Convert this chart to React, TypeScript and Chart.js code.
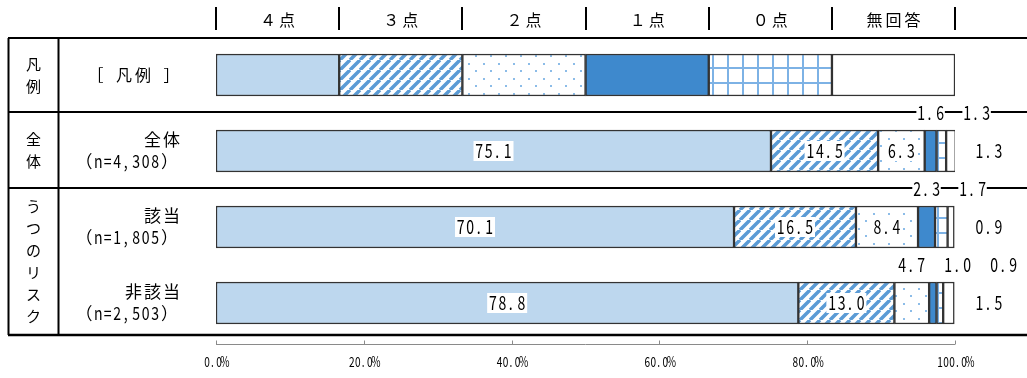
import React, { useEffect, useRef } from 'react';
import { Chart, registerables } from 'chart.js';

Chart.register(...registerables);

// ---------- data ----------
const categories = ['［ 凡例 ］', '全体', '該当', '非該当'];
const sampleSizes = ['', '（n=4,308）', '（n=1,805）', '（n=2,503）'];
const seriesNames = ['４点', '３点', '２点', '１点', '０点', '無回答'];
const legendWidths = [16.67, 16.67, 16.67, 16.67, 16.67, 16.65];
const score4 = [75.1, 70.1, 78.8];
const score3 = [14.5, 16.5, 13.0];
const score2 = [6.3, 8.4, 4.7];
const score1 = [1.6, 2.3, 1.0];
const score0 = [1.3, 1.7, 0.9];
const noAnswer = [1.3, 0.9, 1.5];
const xTicks = [0, 20, 40, 60, 80, 100];
const groupLabels = ['凡例', '全体', 'うつのリスク'];
const groupFirstRow = [0, 1, 2];
const groupLastRow = [0, 1, 3];

const seriesValues = [score4, score3, score2, score1, score0, noAnswer];

// ---------- helpers ----------
const CJK = "'Noto Sans CJK JP', 'Noto Sans', sans-serif";

function isWide(ch: string) {
  return ch.charCodeAt(0) >= 0x2e80;
}

function monoWidth(text: string, cell: number) {
  return Array.from(text).reduce((a, c) => a + (isWide(c) ? cell * 2 : cell), 0);
}

// Draws text in fixed cells (half-width / full-width), mimicking a Japanese monospace font.
function drawMono(
  ctx: CanvasRenderingContext2D,
  text: string,
  x: number,
  y: number,
  align: 'left' | 'center' | 'right',
  size: number,
  cell: number,
  wideSize: number,
  sx: number
) {
  const chars = Array.from(text);
  const total = monoWidth(text, cell);
  let pos = align === 'left' ? x : align === 'center' ? x - total / 2 : x - total;
  ctx.save();
  ctx.textAlign = 'center';
  ctx.textBaseline = 'middle';
  ctx.fillStyle = '#000';
  for (const c of chars) {
    const wide = isWide(c);
    const w = wide ? cell * 2 : cell;
    if (c !== ' ') {
      if (wide) {
        ctx.font = `${wideSize}px ${CJK}`;
        ctx.fillText(c, pos + w / 2, y);
      } else {
        ctx.font = `${size}px ${CJK}`;
        const px = c === '.' || c === ',' ? pos + w * 0.38 : pos + w / 2;
        ctx.save();
        ctx.translate(px, y);
        ctx.scale(sx, 1);
        ctx.fillText(c, 0, 0);
        ctx.restore();
      }
    }
    pos += w;
  }
  ctx.restore();
  return total;
}

function makeTile(size: number, draw: (g: CanvasRenderingContext2D, s: number) => void) {
  const c = document.createElement('canvas');
  c.width = size;
  c.height = size;
  const g = c.getContext('2d')!;
  g.fillStyle = '#ffffff';
  g.fillRect(0, 0, size, size);
  draw(g, size);
  return c;
}

// ---------- plugin ----------
const tablePlugin = {
  id: 'tablePlugin',
  beforeDatasetsDraw(chart: any) {
    const ctx: CanvasRenderingContext2D = chart.ctx;
    const ca = chart.chartArea;
    const ys = chart.scales.y;
    const xs = chart.scales.x;
    const W = chart.width;
    const step = ys.getPixelForValue(1) - ys.getPixelForValue(0);
    const topLine = ca.top + 1;
    const bottomLine = ca.bottom - 6;
    ctx.save();
    ctx.strokeStyle = '#000';
    // horizontal lines
    ctx.lineWidth = 2;
    ctx.beginPath();
    ctx.moveTo(8, topLine);
    ctx.lineTo(W, topLine);
    for (let g = 0; g < groupLastRow.length - 1; g++) {
      const yb = ys.getPixelForValue(groupLastRow[g]) + step / 2 - 1;
      ctx.moveTo(8, yb);
      ctx.lineTo(W, yb);
    }
    ctx.stroke();
    ctx.lineWidth = 2.5;
    ctx.beginPath();
    ctx.moveTo(8, bottomLine);
    ctx.lineTo(W, bottomLine);
    ctx.stroke();
    // vertical lines
    ctx.lineWidth = 2;
    ctx.beginPath();
    ctx.moveTo(8.5, topLine);
    ctx.lineTo(8.5, bottomLine);
    ctx.moveTo(58.5, topLine);
    ctx.lineTo(58.5, bottomLine);
    ctx.stroke();

    // header ticks and labels
    let cum = 0;
    const bounds = [xs.getPixelForValue(0)];
    legendWidths.forEach((w) => {
      cum += w;
      bounds.push(xs.getPixelForValue(Math.min(cum, 100)));
    });
    ctx.lineWidth = 2;
    ctx.beginPath();
    bounds.forEach((bx) => {
      ctx.moveTo(Math.round(bx), 7);
      ctx.lineTo(Math.round(bx), 30);
    });
    ctx.stroke();
    seriesNames.forEach((n, i) => {
      drawMono(ctx, n, (bounds[i] + bounds[i + 1]) / 2, 20, 'center', 16, 9.5, 16, 0.8);
    });

    // group labels (vertical)
    for (let g = 0; g < groupLabels.length; g++) {
      const t = g === 0 ? topLine : ys.getPixelForValue(groupFirstRow[g]) - step / 2 - 1;
      const b =
        g === groupLabels.length - 1 ? bottomLine : ys.getPixelForValue(groupLastRow[g]) + step / 2 - 1;
      const chars = Array.from(groupLabels[g]);
      const sp = 22;
      const mid = (t + b) / 2;
      ctx.fillStyle = '#000';
      ctx.font = `15px ${CJK}`;
      ctx.textAlign = 'center';
      ctx.textBaseline = 'middle';
      chars.forEach((c, i) => {
        ctx.fillText(c, 33.5, mid + (i - (chars.length - 1) / 2) * sp);
      });
    }

    // row labels
    categories.forEach((name, i) => {
      const cy = ys.getPixelForValue(i);
      if (sampleSizes[i]) {
        drawMono(ctx, name, 181, cy - 11.5, 'right', 17, 9.5, 17, 0.78);
        drawMono(ctx, sampleSizes[i], 179, cy + 10.5, 'right', 18, 9.5, 17, 0.78);
      } else {
        drawMono(ctx, name, 181, cy, 'right', 17, 9.5, 16, 0.78);
      }
    });

    // x axis line with ticks and tick labels
    ctx.strokeStyle = '#8a8a8a';
    ctx.lineWidth = 1;
    ctx.beginPath();
    const ay = ca.bottom + 3.5;
    ctx.moveTo(xs.getPixelForValue(0), ay);
    ctx.lineTo(xs.getPixelForValue(100), ay);
    xs.ticks.forEach((t: any) => {
      const px = Math.round(xs.getPixelForValue(t.value)) + 0.5;
      ctx.moveTo(px, ay);
      ctx.lineTo(px, ay - 4);
    });
    ctx.stroke();
    xs.ticks.forEach((t: any) => {
      const label = Number(t.value).toFixed(1) + '%';
      drawMono(ctx, label, xs.getPixelForValue(t.value), ca.bottom + 21, 'center', 14, 6, 14, 0.72);
    });
    ctx.restore();
  },
  afterDatasetsDraw(chart: any) {
    const ctx: CanvasRenderingContext2D = chart.ctx;
    const ca = chart.chartArea;
    const size = 19;
    const cell = 9.5;
    const sx = 0.74;
    for (let r = 1; r < categories.length; r++) {
      let prevX = -Infinity;
      for (let d = 0; d < seriesValues.length; d++) {
        const v = seriesValues[d][r - 1];
        const el = chart.getDatasetMeta(d).data[r];
        const p = el.getProps(['x', 'base', 'y', 'height'], true);
        const text = v.toFixed(1);
        const w = monoWidth(text, cell);
        ctx.save();
        ctx.fillStyle = '#fff';
        if (d === seriesValues.length - 1) {
          drawMono(ctx, text, ca.right + 34, p.y, 'center', size, cell, size, sx);
        } else if (v >= 5) {
          const cx = (p.x + p.base) / 2;
          ctx.fillRect(cx - w / 2 - 1, p.y - 10, w + 2, 20);
          drawMono(ctx, text, cx, p.y, 'center', size, cell, size, sx);
        } else {
          const center = (p.x + p.base) / 2;
          const cx = Math.max(center, prevX + 46);
          prevX = cx;
          const ty = p.y - p.height / 2 - 17;
          ctx.fillRect(cx - w / 2, ty - 9, w, 18);
          drawMono(ctx, text, cx, ty, 'center', size, cell, size, sx);
        }
        ctx.restore();
      }
    }
  },
};

export default function App() {
  const ref = useRef<HTMLCanvasElement>(null);
  useEffect(() => {
    const canvas = ref.current!;
    const c2d = canvas.getContext('2d')!;
    const stripe = c2d.createPattern(
      makeTile(10, (g, s) => {
        g.strokeStyle = '#5B9BD5';
        g.lineWidth = 3.5;
        g.beginPath();
        for (const o of [-s, 0, s]) {
          g.moveTo(o, s);
          g.lineTo(o + s, 0);
        }
        g.stroke();
      }),
      'repeat'
    )!;
    const dots = c2d.createPattern(
      makeTile(15, (g) => {
        g.fillStyle = '#8CBCE8';
        g.fillRect(3, 3, 2, 2);
        g.fillRect(10, 10, 2, 2);
      }),
      'repeat'
    )!;
    const grid = c2d.createPattern(
      makeTile(15, (g) => {
        g.strokeStyle = '#7DB2E5';
        g.lineWidth = 2;
        g.beginPath();
        g.moveTo(8, 0);
        g.lineTo(8, 15);
        g.moveTo(0, 8);
        g.lineTo(15, 8);
        g.stroke();
      }),
      'repeat'
    )!;
    const fills: any[] = ['#BDD7EE', stripe, dots, '#3E89CD', grid, '#FFFFFF'];

    const chart = new Chart(canvas, {
      type: 'bar',
      data: {
        labels: categories,
        datasets: seriesNames.map((name, i) => ({
          label: name,
          data: [legendWidths[i], ...seriesValues[i]],
          backgroundColor: fills[i],
          borderColor: '#333333',
          borderWidth: 1.5,
          borderSkipped: false,
          barThickness: 42,
        })),
      },
      options: {
        indexAxis: 'y',
        responsive: false,
        animation: false,
        events: [],
        layout: { padding: { left: 216, right: 72, top: 37, bottom: 37 } },
        plugins: { legend: { display: false }, tooltip: { enabled: false } },
        scales: {
          y: { stacked: true, display: false },
          x: {
            stacked: true,
            min: 0,
            max: 100,
            afterBuildTicks: (scale: any) => {
              scale.ticks = xTicks.map((v) => ({ value: v }));
            },
            grid: { display: false, drawTicks: false },
            border: { display: false },
            ticks: { display: false },
          },
        },
      },
      plugins: [tablePlugin],
    } as any);
    return () => chart.destroy();
  }, []);
  return (
    <div style={{ position: 'fixed', left: 0, top: 0, width: 1027, height: 378, background: '#fff' }}>
      <canvas ref={ref} width={1027} height={378} style={{ display: 'block', width: 1027, height: 378 }} />
    </div>
  );
}
